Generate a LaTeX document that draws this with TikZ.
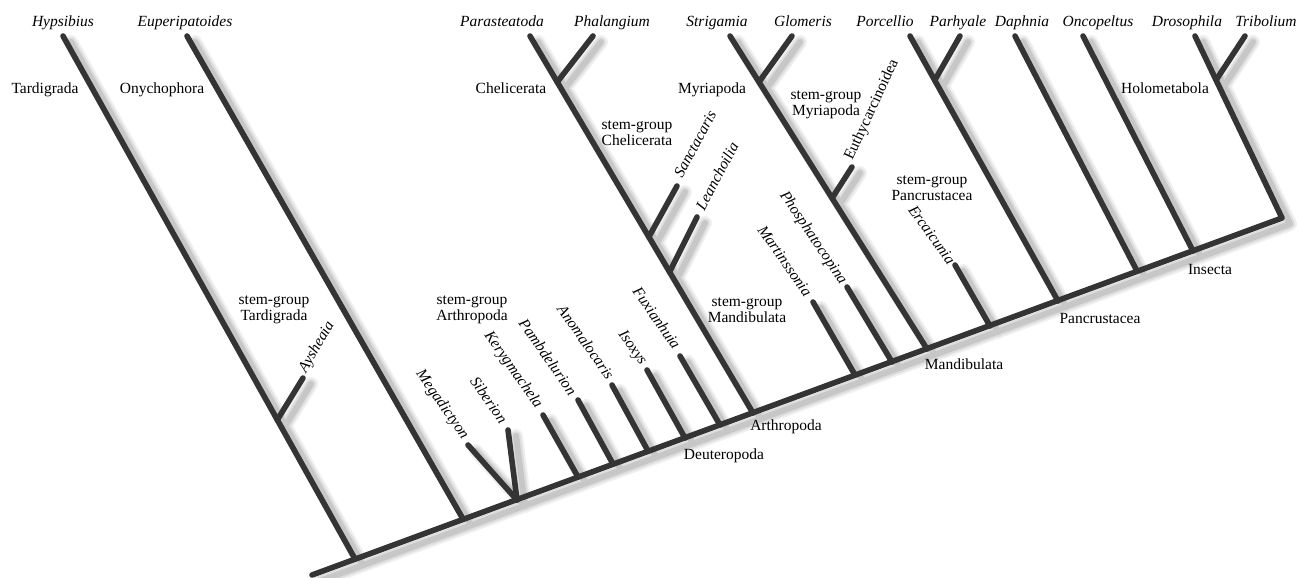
\documentclass[tikz,border=0pt]{standalone}
\usepackage{fontspec}
\setmainfont{Liberation Serif}
\usetikzlibrary{calc}
\definecolor{linegray}{RGB}{52,52,52}
\newcommand\treeedges[1]{%
  \draw[#1] (bs) -- (be) -- (dro);
  \draw[#1] (hyp) -- (jhyp);
  \draw[#1] (jays) -- (ays);
  \draw[#1] (eup) -- (jeup);
  \draw[#1] (meg) -- (jsib);
  \draw[#1] (sib) -- (jsib);
  \draw[#1] (ker) -- (jker);
  \draw[#1] (pam) -- (jpam);
  \draw[#1] (ano) -- (jano);
  \draw[#1] (iso) -- (jiso);
  \draw[#1] (fux) -- (jfux);
  \draw[#1] (par) -- (jart);
  \draw[#1] (jpha) -- (pha);
  \draw[#1] (jsan) -- (san);
  \draw[#1] (jlea) -- (lea);
  \draw[#1] (mar) -- (jmar);
  \draw[#1] (pho) -- (jpho);
  \draw[#1] (str) -- (jman);
  \draw[#1] (jglo) -- (glo);
  \draw[#1] (jeut) -- (eut);
  \draw[#1] (erc) -- (jerc);
  \draw[#1] (por) -- (jpan);
  \draw[#1] (jpar) -- (pry);
  \draw[#1] (dap) -- (jdap);
  \draw[#1] (onc) -- (jonc);
  \draw[#1] (jtri) -- (tri);
}
\begin{document}
\begin{tikzpicture}[x=1pt,y=-1pt,
  edge/.style={draw=linegray,line width=5.6pt,line cap=round,line join=round},
  shA/.style={draw=black!6,line width=14pt,line cap=round,line join=round},
  shB/.style={draw=black!13,line width=10pt,line cap=round,line join=round},
  shC/.style={draw=black!22,line width=6pt,line cap=round,line join=round},
  lab/.style={font=\fontsize{15.5}{16}\selectfont,inner sep=0pt,text=black},
  tax/.style={font=\fontsize{15.5}{16}\selectfont\itshape,inner sep=0pt,text=black},
  stem/.style={lab,align=center}]
\useasboundingbox (0,0) rectangle (1299,578);
% backbone
\coordinate (bs) at (312,575);
\coordinate (be) at (1282,218);
% coordinates of tips and junctions
\coordinate (hyp) at (63,36);   \coordinate (jhyp) at (355,559);
\coordinate (jays) at ($(hyp)!0.734!(jhyp)$); \coordinate (ays) at (303,378);
\coordinate (eup) at (187,36);  \coordinate (jeup) at (463,519);
\coordinate (meg) at (468,445); \coordinate (sib) at (508,430); \coordinate (jsib) at (517,500);
\coordinate (ker) at (543,415); \coordinate (jker) at (578,477);
\coordinate (pam) at (578,400); \coordinate (jpam) at (613,464);
\coordinate (ano) at (612,385); \coordinate (jano) at (648,451);
\coordinate (iso) at (647,370); \coordinate (jiso) at (685,438);
\coordinate (fux) at (680,356); \coordinate (jfux) at (720,425);
\coordinate (par) at (530,36);  \coordinate (jart) at (753,413);
\coordinate (jpha) at ($(par)!0.122!(jart)$); \coordinate (pha) at (593,36);
\coordinate (jsan) at ($(par)!0.533!(jart)$); \coordinate (san) at (677,186);
\coordinate (jlea) at ($(par)!0.626!(jart)$); \coordinate (lea) at (697,217);
\coordinate (mar) at (813,302); \coordinate (jmar) at (855,375);
\coordinate (pho) at (847,287); \coordinate (jpho) at (892,362);
\coordinate (str) at (730,36);  \coordinate (jman) at (927,349);
\coordinate (jglo) at ($(str)!0.147!(jman)$); \coordinate (glo) at (792,36);
\coordinate (jeut) at ($(str)!0.518!(jman)$); \coordinate (eut) at (852,167);
\coordinate (erc) at (955,265); \coordinate (jerc) at (990,326);
\coordinate (por) at (910,36);  \coordinate (jpan) at (1058,301);
\coordinate (jpar) at ($(por)!0.167!(jpan)$); \coordinate (pry) at (960,36);
\coordinate (dap) at (1015,36); \coordinate (jdap) at (1137,271);
\coordinate (onc) at (1083,36); \coordinate (jonc) at (1193,251);
\coordinate (dro) at (1195,36);
\coordinate (jtri) at ($(dro)!0.242!(be)$); \coordinate (tri) at (1245,36);
% shadows
\begin{scope}[transform canvas={shift={(8pt,-6pt)}}]
  \treeedges{shA}
  \treeedges{shB}
  \treeedges{shC}
\end{scope}
% branches
\treeedges{edge}
% top taxon labels
\node[tax,anchor=base] (lhyp) at (63,27) {Hypsibius};
\node[tax,anchor=base] (leup) at (185,27) {Euperipatoides};
\node[tax,anchor=base] (lpar) at (502,27) {Parasteatoda};
\node[tax,anchor=base] (lpha) at (612,27) {Phalangium};
\node[tax,anchor=base] (lstr) at (717,27) {Strigamia};
\node[tax,anchor=base] (lglo) at (803,27) {Glomeris};
\node[tax,anchor=base] (lpor) at (885,27) {Porcellio};
\node[tax,anchor=base] (lpry) at (958,27) {Parhyale};
\node[tax,anchor=base] (ldap) at (1022,27) {Daphnia};
\node[tax,anchor=base] (lonc) at (1098,27) {Oncopeltus};
\node[tax,anchor=base] (ldro) at (1187,27) {Drosophila};
\node[tax,anchor=base] (ltri) at (1266,27) {Tribolium};
% rotated fossil labels
\node[tax,rotate=60] (lays) at (317,347) {Aysheaia};
\node[tax,rotate=-55] (lmeg) at (442,405) {Megadictyon};
\node[tax,rotate=-55] (lsib) at (489,400) {Siberion};
\node[tax,rotate=-55] (lker) at (513,370) {Kerygmachela};
\node[tax,rotate=-55] (lpam) at (548,357) {Pambdelurion};
\node[tax,rotate=-55] (lano) at (586,342) {Anomalocaris};
\node[tax,rotate=-55] (liso) at (632,348) {Isoxys};
\node[tax,rotate=-55] (lfux) at (657,318) {Fuxianhuia};
\node[tax,rotate=62] (lsan) at (695,144) {Sanctacaris};
\node[tax,rotate=62] (llea) at (717,176) {Leanchoilia};
\node[tax,rotate=-55] (lmar) at (785,261) {Martinssonia};
\node[tax,rotate=-56] (lpho) at (813,238) {Phosphatocopina};
\node[lab,rotate=65] (leut) at (872,110) {Euthycarcinoidea};
\node[tax,rotate=-54] (lerc) at (932,235) {Ercaicunia};
% clade labels
\node[lab,anchor=base] (ctar) at (45,94) {Tardigrada};
\node[lab,anchor=base] (cony) at (162,94) {Onychophora};
\node[lab,anchor=base] (cche) at (511,94) {Chelicerata};
\node[lab,anchor=base] (cmyr) at (712,94) {Myriapoda};
\node[lab,anchor=base] (chol) at (1165,94) {Holometabola};
\node[lab,anchor=base] (cart) at (786,430) {Arthropoda};
\node[lab,anchor=base] (cdeu) at (724,459) {Deuteropoda};
\node[lab,anchor=base] (cman) at (964,369) {Mandibulata};
\node[lab,anchor=base] (cpan) at (1100,323) {Pancrustacea};
\node[lab,anchor=base] (cins) at (1210,274) {Insecta};
% stem-group labels
\node[stem] (smyr) at (826,105) {stem-group\\Myriapoda};
\node[stem] (sche) at (637,133) {stem-group\\Chelicerata};
\node[stem] (span) at (932,188) {stem-group\\Pancrustacea};
\node[stem] (star) at (274,310) {stem-group\\Tardigrada};
\node[stem] (sart) at (472,310) {stem-group\\Arthropoda};
\node[stem] (sman) at (747,310) {stem-group\\Mandibulata};
\end{tikzpicture}
\end{document}
